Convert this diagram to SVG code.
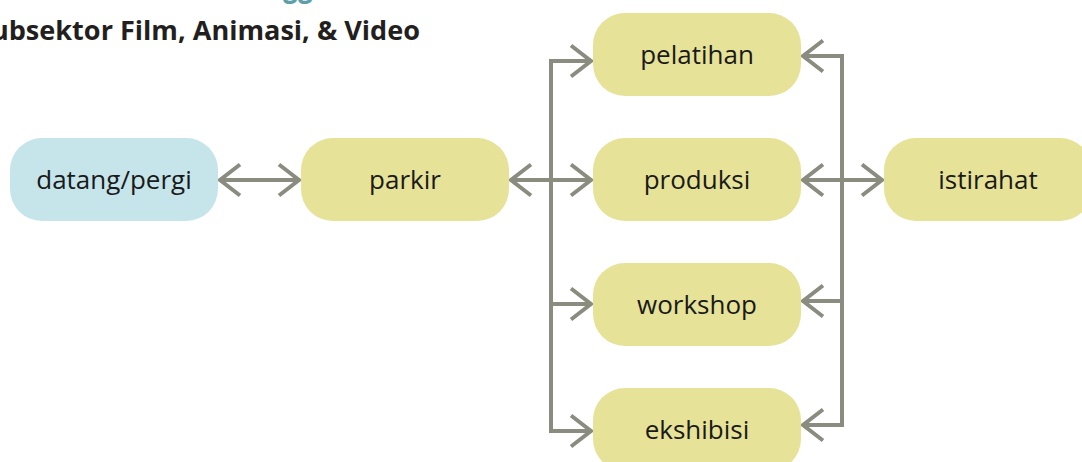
<svg xmlns="http://www.w3.org/2000/svg" width="1082" height="462" viewBox="0 0 1082 462">
  <style>
    .node rect { stroke: none; }
    .act rect { fill: #e6e298; }
    .gate rect { fill: #c6e5eb; }
    .node text { font-family: "Open Sans", "Noto Sans", sans-serif; font-size: 26px; fill: #1a1a1a; text-anchor: middle; }
    .links path { fill: none; stroke: #8b8c80; stroke-width: 4; }
    .title { font-family: "Open Sans", "Noto Sans", sans-serif; font-weight: 700; font-size: 27px; fill: #231f20; }
    .heading { font-family: "Open Sans", "Noto Sans", sans-serif; font-weight: 700; font-size: 32px; fill: #5e9ea8; }
  </style>
  <defs>
    <marker id="chev" markerUnits="userSpaceOnUse" viewBox="-26 -20 30 40" markerWidth="30" markerHeight="40" refX="0" refY="0" orient="auto-start-reverse" overflow="visible">
      <path d="M-20,-15.5 L0,0 L-20,15.5" fill="none" stroke="#8b8c80" stroke-width="4"/>
    </marker>
  </defs>
  <rect width="1082" height="462" fill="#ffffff"/>

  <!-- headings -->
  <text class="heading" x="283" y="-4" textLength="30" lengthAdjust="spacingAndGlyphs">gg</text>
  <text class="title" x="-24" y="40" textLength="444" lengthAdjust="spacingAndGlyphs">Subsektor Film, Animasi, &amp; Video</text>

  <!-- connectors -->
  <g class="links" id="connectors">
    <path d="M220,180 H299" marker-start="url(#chev)" marker-end="url(#chev)"/>
    <path d="M511,180 H591" marker-start="url(#chev)" marker-end="url(#chev)"/>
    <path d="M591,61 H551 V431 H591" marker-start="url(#chev)" marker-end="url(#chev)"/>
    <path d="M551,304 H591" marker-end="url(#chev)"/>
    <path d="M803,56 H842 V425 H803" marker-start="url(#chev)" marker-end="url(#chev)"/>
    <path d="M842,301 H803" marker-end="url(#chev)"/>
    <path d="M803,180 H882" marker-start="url(#chev)" marker-end="url(#chev)"/>
  </g>

  <!-- nodes -->
  <g id="datang-pergi" class="node gate">
    <rect x="10" y="138" width="208" height="83" rx="32"/>
    <text x="114" y="189">datang/pergi</text>
  </g>
  <g id="parkir" class="node act">
    <rect x="301" y="138" width="208" height="83" rx="32"/>
    <text x="405" y="189">parkir</text>
  </g>
  <g id="pelatihan" class="node act">
    <rect x="593" y="13" width="208" height="83" rx="32"/>
    <text x="697" y="64">pelatihan</text>
  </g>
  <g id="produksi" class="node act">
    <rect x="593" y="138" width="208" height="83" rx="32"/>
    <text x="697" y="189">produksi</text>
  </g>
  <g id="workshop" class="node act">
    <rect x="593" y="263" width="208" height="83" rx="32"/>
    <text x="697" y="314">workshop</text>
  </g>
  <g id="ekshibisi" class="node act">
    <rect x="593" y="388" width="208" height="83" rx="32"/>
    <text x="697" y="439">ekshibisi</text>
  </g>
  <g id="istirahat" class="node act">
    <rect x="884" y="138" width="208" height="83" rx="32"/>
    <text x="988" y="189">istirahat</text>
  </g>
</svg>
